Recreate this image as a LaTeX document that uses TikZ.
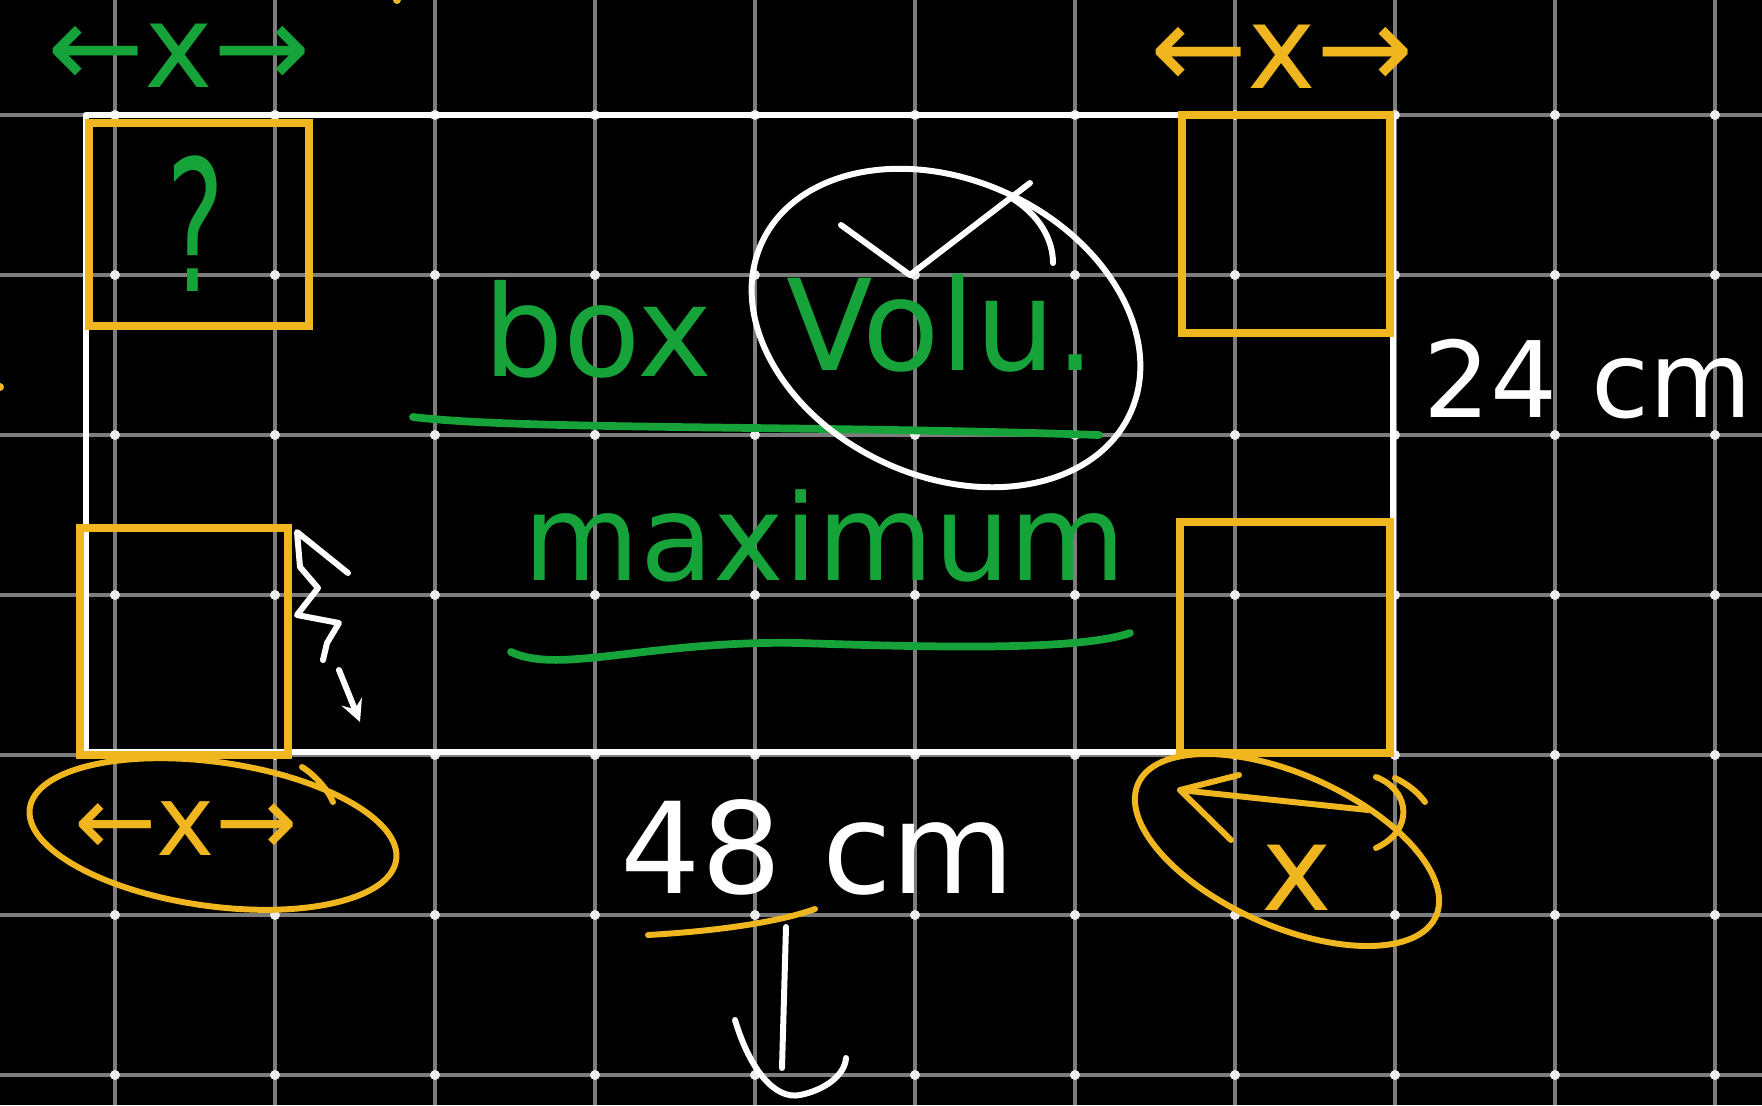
\documentclass[tikz,border=0pt]{standalone}
\usepackage{fontspec}
\setmainfont{DejaVu Sans}
\usetikzlibrary{arrows,shapes}
\definecolor{ocol}{RGB}{240,182,32}
\definecolor{gcol}{RGB}{22,163,58}
\definecolor{gridc}{RGB}{125,125,125}
\tikzstyle{grd}=[draw=gridc,line width=0.9pt]
\tikzstyle{wline}=[draw=white,line width=1.7pt,line cap=round,line join=round]
\tikzstyle{oline}=[draw=ocol,line width=1.7pt,line cap=round,line join=round]
\tikzstyle{obox}=[draw=ocol,line width=2.2pt]
\tikzstyle{gline}=[draw=gcol,line width=2.2pt,line cap=round]
\tikzstyle{gtxt}=[text=gcol,inner sep=0pt,anchor=base]
\tikzstyle{otxt}=[text=ocol,inner sep=0pt,anchor=base]
\tikzstyle{wtxt}=[text=white,inner sep=0pt,anchor=base]
\begin{document}
\begin{tikzpicture}[x=0.01cm,y=-0.01cm,>=stealth]
\useasboundingbox (0,0) rectangle (1762,1105);
\fill[black] (0,0) rectangle (1762,1105);
\foreach \gx in {115,275,...,1715} \draw[grd] (\gx,0)--(\gx,1105);
\foreach \gy in {115,275,...,1075} \draw[grd] (0,\gy)--(1762,\gy);
\foreach \gx in {115,275,...,1715} \foreach \gy in {115,275,...,1075} \fill[white!85!gray] (\gx,\gy) circle [radius=5];
\draw[wline,line width=1.9pt] (86,115) rectangle (1393,752);
\draw[obox] (89,123) rectangle (309,326);\draw[obox] (1182,115) rectangle (1390,333);
\draw[obox] (80,528) rectangle (288,755);\draw[obox] (1180,522) rectangle (1390,753);
\node[gtxt,font=\fontsize{33}{36}\selectfont] (xtl) at (179,87) {←x→};
\node[otxt,font=\fontsize{33}{36}\selectfont] (xtr) at (1282,88) {←x→};
\node[gtxt,font=\fontsize{52}{56}\selectfont] (qm) at (196,291) {\scalebox{0.6}[1]{?}};
\node[gtxt,font=\fontsize{36}{40}\selectfont] (box) at (598,376) {box};
\node[gtxt,font=\fontsize{36}{40}\selectfont] (volu) at (941,370) {Volu.};
\node[gtxt,font=\fontsize{34}{38}\selectfont] (maxi) at (825,580) {maximum};
\node[wtxt,font=\fontsize{30}{34}\selectfont] (wid) at (1588,417) {24 cm};
\node[wtxt,font=\fontsize{36}{40}\selectfont] (len) at (818,893) {48 cm};
\node[otxt,font=\fontsize{28}{32}\selectfont] (xbl) at (186,855) {←x→};
\node[otxt,font=\fontsize{34}{38}\selectfont] (xbr) at (1297,910) {x};
\draw[gline] (413,417) .. controls (520,430) and (800,425) .. (1099,435);
\draw[gline] (511,652) .. controls (560,675) and (650,640) .. (800,643) .. controls (950,648) and (1080,650) .. (1130,633);
\draw[wline,rotate around={-25:(946,328)}] (946,328) ellipse [x radius=203,y radius=148];
\draw[wline] (841,225)--(910,275)--(1030,183);\draw[wline] (1010,197) .. controls (1040,215) and (1053,240) .. (1053,263);
\draw[oline,rotate around={-8:(213,834)}] (213,834) ellipse [x radius=185,y radius=72];
\draw[oline] (302,767) .. controls (315,775) and (328,790) .. (333,802);
\draw[oline,rotate around={-24:(1287,850)}] (1287,850) ellipse [x radius=163,y radius=76];
\draw[oline] (1368,810)--(1180,790);\draw[oline] (1239,775)--(1180,790)--(1231,840);
\draw[oline] (1376,777) .. controls (1410,790) and (1415,830) .. (1376,848);
\draw[oline] (1395,778) .. controls (1410,785) and (1420,795) .. (1425,802);
\draw[wline] (348,573)--(297,532)--(300,567)--(318,588)--(297,615)--(339,623)--(327,643)--(323,660);
\draw[wline,->] (339,670)--(360,722);
\draw[oline] (648,935) .. controls (700,932) and (770,925) .. (815,909);
\draw[wline] (786,927)--(782,1068);
\draw[wline] (735,1020) .. controls (750,1070) and (775,1100) .. (800,1095) .. controls (825,1090) and (845,1075) .. (846,1058);
\fill[ocol] (0,387) circle [radius=4];\fill[ocol] (397,0) circle [radius=4];
\end{tikzpicture}
\end{document}
